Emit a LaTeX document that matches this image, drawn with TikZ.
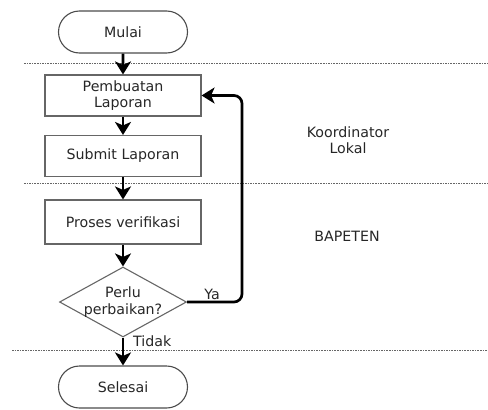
\documentclass[tikz,border=0pt]{standalone}
\usepackage{fontspec}
\setmainfont{DejaVu Sans}
\usetikzlibrary{shapes.geometric,shapes.misc,arrows.meta}
\begin{document}
\begin{tikzpicture}[x=1pt,y=-1pt,
  every node/.style={font=\fontsize{14.2}{16.5}\selectfont, text=black!85},
  term/.style={draw=black!70, line width=1.1pt, rounded rectangle, minimum width=129pt, minimum height=42pt, inner sep=0pt},
  procbox/.style={draw=black!60, line width=1.1pt, rectangle, minimum width=156pt, minimum height=41pt, inner sep=0pt, align=center},
  decide/.style={draw=black!60, line width=1.1pt, diamond, minimum width=127pt, minimum height=70pt, inner sep=0pt, align=center},
  flow/.style={line width=2.7pt, -{Stealth[length=13pt,width=16pt,inset=3.5pt]}},
  lane/.style={draw=black!60, line width=1pt, dash pattern=on 1.6pt off 1pt},
  lbl/.style={align=center}
]
\useasboundingbox (0,0) rectangle (488,410);
\draw[lane] (24,63) -- (488,63);
\draw[lane] (24,183) -- (488,183);
\draw[lane] (12,350) -- (488,350);

\node[term] (mulai) at (123,32) {Mulai};
\node[procbox] (buat) at (123,95.5) {Pembuatan\\Laporan};
\node[procbox] (submit) at (123,156) {Submit Laporan};
\node[procbox, minimum height=44pt] (verif) at (123,222) {Proses verifikasi};
\node[decide] (cek) at (123,302) {};
\node[lbl] (cektext) at (cek.center) {Perlu\\perbaikan?};
\node[term] (selesai) at (123,387) {Selesai};

\node[lbl] (kl) at (348,140) {Koordinator\\Lokal};
\node[lbl] (bap) at (347,236) {BAPETEN};

\coordinate (c1) at (242,302);
\coordinate (c2) at (242,95.5);

\draw[flow] (mulai) -- (buat);
\draw[flow] (buat) -- (submit);
\draw[flow] (submit) -- (verif);
\draw[flow] (verif) -- (cek);
\draw[flow] (cek) -- (selesai);
\draw[flow, rounded corners=8pt] (cek.east) -- (c1) -- (c2) -- (buat.east);

\node[anchor=center, inner sep=1pt] (ya) at (212,294) {Ya};
\node[anchor=west, inner sep=1pt] (tidak) at (132,341) {Tidak};
\end{tikzpicture}
\end{document}
